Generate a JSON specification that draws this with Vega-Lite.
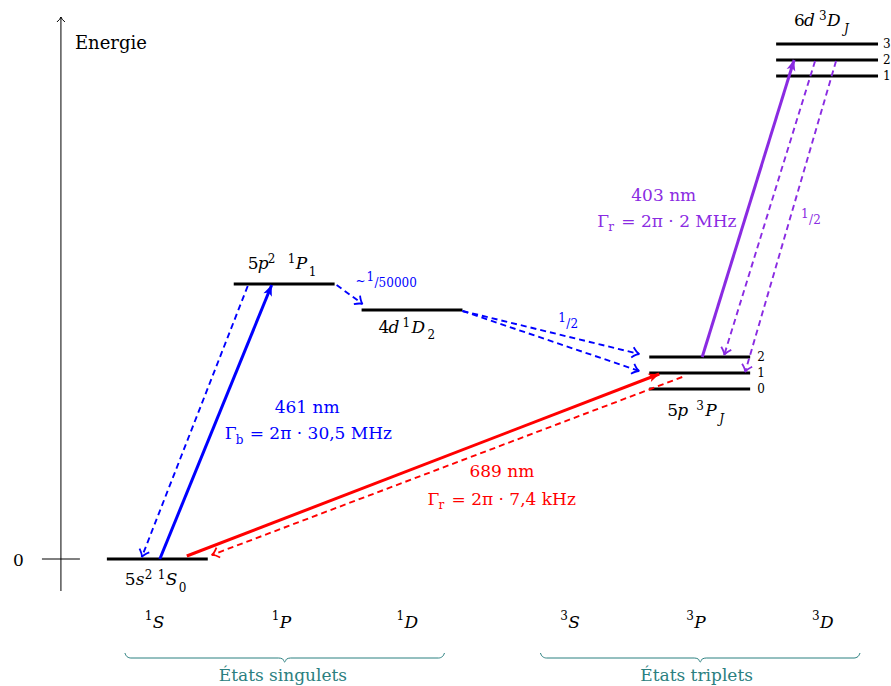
{
  "$schema": "https://vega.github.io/schema/vega-lite/v6.json",
  "width": 891,
  "height": 686,
  "autosize": {"type": "fit", "contains": "padding"},
  "padding": 0,
  "config": {"view": {"stroke": null}, "text": {"font": "DejaVu Serif"}},
  "datasets": {
    "levels": [
      {"state": "5s2 1S0", "x1": 107, "x2": 208, "y": 559},
      {"state": "5p2 1P1", "x1": 234, "x2": 335, "y": 284},
      {"state": "4d 1D2", "x1": 362, "x2": 463, "y": 310},
      {"state": "5p 3P2", "x1": 650, "x2": 751, "y": 357},
      {"state": "5p 3P1", "x1": 650, "x2": 751, "y": 373},
      {"state": "5p 3P0", "x1": 650, "x2": 751, "y": 389},
      {"state": "6d 3D3", "x1": 777, "x2": 879, "y": 44},
      {"state": "6d 3D2", "x1": 777, "x2": 879, "y": 60},
      {"state": "6d 3D1", "x1": 777, "x2": 879, "y": 76}
    ],
    "arrows": [
      {"id": "axis", "x1": 61, "y1": 591, "x2": 61, "y2": 17, "c": "k", "k": "axis"},
      {"id": "461", "x1": 160, "y1": 559, "x2": 272, "y2": 285, "c": "b", "k": "solid"},
      {"id": "461d", "x1": 248, "y1": 286, "x2": 142, "y2": 557, "c": "b", "k": "dashed"},
      {"id": "1D2", "x1": 337, "y1": 285, "x2": 363, "y2": 304, "c": "b", "k": "dashed"},
      {"id": "3P2b", "x1": 463, "y1": 311, "x2": 640, "y2": 354, "c": "b", "k": "dashed"},
      {"id": "3P1b", "x1": 463, "y1": 311, "x2": 640, "y2": 371, "c": "b", "k": "dashed"},
      {"id": "689", "x1": 187, "y1": 556, "x2": 660, "y2": 374, "c": "r", "k": "solid"},
      {"id": "689d", "x1": 683, "y1": 377, "x2": 212, "y2": 555, "c": "r", "k": "dashed"},
      {"id": "403", "x1": 703, "y1": 357, "x2": 795, "y2": 60, "c": "p", "k": "solid"},
      {"id": "403d2", "x1": 816, "y1": 61, "x2": 725, "y2": 355, "c": "p", "k": "dashed"},
      {"id": "403d1", "x1": 837, "y1": 61, "x2": 746, "y2": 372, "c": "p", "k": "dashed"}
    ],
    "ticks": [
      {"x1": 42, "x2": 80, "y": 559}
    ],
    "braces": [
      {"g": 1, "i": 0, "x": 125, "y": 653}, {"g": 1, "i": 1, "x": 127, "y": 656.5}, {"g": 1, "i": 2, "x": 131, "y": 658},
      {"g": 1, "i": 3, "x": 279, "y": 658}, {"g": 1, "i": 4, "x": 283, "y": 659}, {"g": 1, "i": 5, "x": 285, "y": 662},
      {"g": 1, "i": 6, "x": 287, "y": 659}, {"g": 1, "i": 7, "x": 291, "y": 658}, {"g": 1, "i": 8, "x": 439, "y": 658},
      {"g": 1, "i": 9, "x": 443, "y": 656.5}, {"g": 1, "i": 10, "x": 445, "y": 653},
      {"g": 2, "i": 0, "x": 541, "y": 653}, {"g": 2, "i": 1, "x": 543, "y": 656.5}, {"g": 2, "i": 2, "x": 547, "y": 658},
      {"g": 2, "i": 3, "x": 695, "y": 658}, {"g": 2, "i": 4, "x": 699, "y": 659}, {"g": 2, "i": 5, "x": 701, "y": 662},
      {"g": 2, "i": 6, "x": 703, "y": 659}, {"g": 2, "i": 7, "x": 707, "y": 658}, {"g": 2, "i": 8, "x": 855, "y": 658},
      {"g": 2, "i": 9, "x": 859, "y": 656.5}, {"g": 2, "i": 10, "x": 861, "y": 653}
    ],
    "texts": [
      {"t": "Energie", "x": 75, "y": 49, "c": "k", "f": "rm", "s": "L"},
      {"t": "0", "x": 13, "y": 566, "c": "k", "f": "rm", "s": "M"},

      {"t": "5", "x": 125, "y": 585, "c": "k", "f": "rm", "s": "M"},
      {"t": "s", "x": 136, "y": 585, "c": "k", "f": "it", "s": "M"},
      {"t": "2", "x": 145, "y": 579, "c": "k", "f": "rm", "s": "S"},
      {"t": "1", "x": 158, "y": 579, "c": "k", "f": "rm", "s": "S"},
      {"t": "S", "x": 166, "y": 585, "c": "k", "f": "it", "s": "M"},
      {"t": "0", "x": 179, "y": 592, "c": "k", "f": "rm", "s": "S"},

      {"t": "5", "x": 248, "y": 269, "c": "k", "f": "rm", "s": "M"},
      {"t": "p", "x": 258, "y": 269, "c": "k", "f": "it", "s": "M"},
      {"t": "2", "x": 268, "y": 263, "c": "k", "f": "rm", "s": "S"},
      {"t": "1", "x": 288, "y": 263, "c": "k", "f": "rm", "s": "S"},
      {"t": "P", "x": 296, "y": 269, "c": "k", "f": "it", "s": "M"},
      {"t": "1", "x": 309, "y": 276, "c": "k", "f": "rm", "s": "S"},

      {"t": "4", "x": 379, "y": 333, "c": "k", "f": "rm", "s": "M"},
      {"t": "d", "x": 389, "y": 333, "c": "k", "f": "it", "s": "M"},
      {"t": "1", "x": 403, "y": 327, "c": "k", "f": "rm", "s": "S"},
      {"t": "D", "x": 412, "y": 333, "c": "k", "f": "it", "s": "M"},
      {"t": "2", "x": 428, "y": 339, "c": "k", "f": "rm", "s": "S"},

      {"t": "5", "x": 668, "y": 416, "c": "k", "f": "rm", "s": "M"},
      {"t": "p", "x": 678, "y": 416, "c": "k", "f": "it", "s": "M"},
      {"t": "3", "x": 697, "y": 410, "c": "k", "f": "rm", "s": "S"},
      {"t": "P", "x": 706, "y": 416, "c": "k", "f": "it", "s": "M"},
      {"t": "J", "x": 720, "y": 423, "c": "k", "f": "it", "s": "S"},

      {"t": "6", "x": 795, "y": 26, "c": "k", "f": "rm", "s": "M"},
      {"t": "d", "x": 805, "y": 26, "c": "k", "f": "it", "s": "M"},
      {"t": "3", "x": 820, "y": 20, "c": "k", "f": "rm", "s": "S"},
      {"t": "D", "x": 828, "y": 26, "c": "k", "f": "it", "s": "M"},
      {"t": "J", "x": 845, "y": 33, "c": "k", "f": "it", "s": "S"},

      {"t": "2", "x": 758, "y": 361, "c": "k", "f": "rm", "s": "S"},
      {"t": "1", "x": 758, "y": 377, "c": "k", "f": "rm", "s": "S"},
      {"t": "0", "x": 758, "y": 393, "c": "k", "f": "rm", "s": "S"},
      {"t": "3", "x": 884, "y": 48, "c": "k", "f": "rm", "s": "S"},
      {"t": "2", "x": 884, "y": 64, "c": "k", "f": "rm", "s": "S"},
      {"t": "1", "x": 884, "y": 80, "c": "k", "f": "rm", "s": "S"},

      {"t": "1", "x": 145, "y": 620, "c": "k", "f": "rm", "s": "S"},
      {"t": "S", "x": 153, "y": 628, "c": "k", "f": "it", "s": "M"},
      {"t": "1", "x": 272, "y": 620, "c": "k", "f": "rm", "s": "S"},
      {"t": "P", "x": 280, "y": 628, "c": "k", "f": "it", "s": "M"},
      {"t": "1", "x": 397, "y": 620, "c": "k", "f": "rm", "s": "S"},
      {"t": "D", "x": 405, "y": 628, "c": "k", "f": "it", "s": "M"},
      {"t": "3", "x": 561, "y": 620, "c": "k", "f": "rm", "s": "S"},
      {"t": "S", "x": 569, "y": 628, "c": "k", "f": "it", "s": "M"},
      {"t": "3", "x": 687, "y": 620, "c": "k", "f": "rm", "s": "S"},
      {"t": "P", "x": 695, "y": 628, "c": "k", "f": "it", "s": "M"},
      {"t": "3", "x": 813, "y": 620, "c": "k", "f": "rm", "s": "S"},
      {"t": "D", "x": 821, "y": 628, "c": "k", "f": "it", "s": "M"},

      {"t": "461 nm", "x": 275, "y": 413, "c": "b", "f": "rm", "s": "M"},
      {"t": "Γ", "x": 225, "y": 439, "c": "b", "f": "rm", "s": "M"},
      {"t": "b", "x": 236, "y": 444, "c": "b", "f": "rm", "s": "S"},
      {"t": "= 2π · 30,5 MHz", "x": 250, "y": 439, "c": "b", "f": "rm", "s": "M"},

      {"t": "689 nm", "x": 470, "y": 477, "c": "r", "f": "rm", "s": "M"},
      {"t": "Γ", "x": 428, "y": 505, "c": "r", "f": "rm", "s": "M"},
      {"t": "r", "x": 439, "y": 509, "c": "r", "f": "rm", "s": "S"},
      {"t": "= 2π · 7,4 kHz", "x": 452, "y": 505, "c": "r", "f": "rm", "s": "M"},

      {"t": "403 nm", "x": 632, "y": 201, "c": "p", "f": "rm", "s": "M"},
      {"t": "Γ", "x": 598, "y": 227, "c": "p", "f": "rm", "s": "M"},
      {"t": "r", "x": 609, "y": 231, "c": "p", "f": "rm", "s": "S"},
      {"t": "= 2π · 2 MHz", "x": 622, "y": 227, "c": "p", "f": "rm", "s": "M"},

      {"t": "~", "x": 356, "y": 285, "c": "b", "f": "rm", "s": "S"},
      {"t": "1", "x": 367, "y": 281, "c": "b", "f": "rm", "s": "S"},
      {"t": "/50000", "x": 375, "y": 287, "c": "b", "f": "rm", "s": "S"},
      {"t": "1", "x": 559, "y": 322, "c": "b", "f": "rm", "s": "S"},
      {"t": "/2", "x": 567, "y": 328, "c": "b", "f": "rm", "s": "S"},
      {"t": "1", "x": 802, "y": 218, "c": "p", "f": "rm", "s": "S"},
      {"t": "/2", "x": 810, "y": 224, "c": "p", "f": "rm", "s": "S"},

      {"t": "États singulets", "x": 219, "y": 681, "c": "t", "f": "rm", "s": "M"},
      {"t": "États triplets", "x": 641, "y": 681, "c": "t", "f": "rm", "s": "M"}
    ]
  },
  "layer": [
    {
      "data": {"name": "levels"},
      "mark": {"type": "rule", "strokeWidth": 3, "color": "black"},
      "encoding": {
        "x": {"field": "x1", "type": "quantitative", "scale": {"domain": [0, 891], "nice": false, "zero": false}, "axis": null},
        "x2": {"field": "x2"},
        "y": {"field": "y", "type": "quantitative", "scale": {"domain": [0, 686], "nice": false, "zero": false, "reverse": true}, "axis": null}
      }
    },
    {
      "data": {"name": "ticks"},
      "mark": {"type": "rule", "strokeWidth": 1, "color": "black"},
      "encoding": {
        "x": {"field": "x1", "type": "quantitative", "axis": null},
        "x2": {"field": "x2"},
        "y": {"field": "y", "type": "quantitative", "axis": null}
      }
    },
    {
      "data": {"name": "arrows"},
      "transform": [{"filter": "datum.k === 'axis'"}],
      "mark": {"type": "rule", "strokeWidth": 1, "color": "black"},
      "encoding": {
        "x": {"field": "x1", "type": "quantitative", "axis": null},
        "x2": {"field": "x2"},
        "y": {"field": "y1", "type": "quantitative", "axis": null},
        "y2": {"field": "y2"}
      }
    },
    {
      "data": {"name": "arrows"},
      "transform": [{"filter": "datum.k === 'solid'"}],
      "mark": {"type": "rule", "strokeWidth": 3},
      "encoding": {
        "x": {"field": "x1", "type": "quantitative", "axis": null},
        "x2": {"field": "x2"},
        "y": {"field": "y1", "type": "quantitative", "axis": null},
        "y2": {"field": "y2"},
        "color": {"field": "c", "type": "nominal", "legend": null,
          "scale": {"domain": ["k", "b", "r", "p", "t"], "range": ["#000000", "#0000ff", "#ff0000", "#8a2be2", "#2b8080"]}}
      }
    },
    {
      "data": {"name": "arrows"},
      "transform": [{"filter": "datum.k === 'dashed'"}],
      "mark": {"type": "rule", "strokeWidth": 1.9, "strokeDash": [6, 4]},
      "encoding": {
        "x": {"field": "x1", "type": "quantitative", "axis": null},
        "x2": {"field": "x2"},
        "y": {"field": "y1", "type": "quantitative", "axis": null},
        "y2": {"field": "y2"},
        "color": {"field": "c", "type": "nominal", "legend": null}
      }
    },
    {
      "data": {"name": "arrows"},
      "transform": [
        {"filter": "datum.k === 'solid'"},
        {"calculate": "atan2(datum.y2 - datum.y1, datum.x2 - datum.x1) * 180 / PI", "as": "dir"}
      ],
      "mark": {"type": "point", "filled": true, "opacity": 1, "size": 460,
        "shape": "M0,0 L-1,-0.42 L-0.75,0 L-1,0.42 Z"},
      "encoding": {
        "x": {"field": "x2", "type": "quantitative", "axis": null},
        "y": {"field": "y2", "type": "quantitative", "axis": null},
        "angle": {"field": "dir", "type": "quantitative", "scale": null},
        "color": {"field": "c", "type": "nominal", "legend": null}
      }
    },
    {
      "data": {"name": "arrows"},
      "transform": [
        {"filter": "datum.k === 'dashed'"},
        {"calculate": "atan2(datum.y2 - datum.y1, datum.x2 - datum.x1) * 180 / PI", "as": "dir"}
      ],
      "mark": {"type": "point", "filled": false, "opacity": 1, "size": 196, "strokeWidth": 1.8,
        "shape": "M-1,-0.75 Q-0.4,-0.1 0,0 Q-0.4,0.1 -1,0.75"},
      "encoding": {
        "x": {"field": "x2", "type": "quantitative", "axis": null},
        "y": {"field": "y2", "type": "quantitative", "axis": null},
        "angle": {"field": "dir", "type": "quantitative", "scale": null},
        "color": {"field": "c", "type": "nominal", "legend": null}
      }
    },
    {
      "data": {"name": "arrows"},
      "transform": [
        {"filter": "datum.k === 'axis'"},
        {"calculate": "atan2(datum.y2 - datum.y1, datum.x2 - datum.x1) * 180 / PI", "as": "dir"}
      ],
      "mark": {"type": "point", "filled": false, "opacity": 1, "size": 100, "strokeWidth": 1, "color": "black",
        "shape": "M-1,-0.8 Q-0.4,-0.1 0,0 Q-0.4,0.1 -1,0.8"},
      "encoding": {
        "x": {"field": "x2", "type": "quantitative", "axis": null},
        "y": {"field": "y2", "type": "quantitative", "axis": null},
        "angle": {"field": "dir", "type": "quantitative", "scale": null}
      }
    },
    {
      "data": {"name": "braces"},
      "mark": {"type": "line", "strokeWidth": 1, "color": "#2b8080", "interpolate": "monotone"},
      "encoding": {
        "x": {"field": "x", "type": "quantitative", "axis": null},
        "y": {"field": "y", "type": "quantitative", "axis": null},
        "detail": {"field": "g", "type": "nominal"},
        "order": {"field": "i", "type": "quantitative"}
      }
    },
    {
      "data": {"name": "texts"},
      "transform": [{"filter": "datum.f === 'rm' && datum.s === 'L'"}],
      "mark": {"type": "text", "align": "left", "baseline": "alphabetic", "font": "DejaVu Serif", "fontSize": 18},
      "encoding": {
        "x": {"field": "x", "type": "quantitative", "axis": null},
        "y": {"field": "y", "type": "quantitative", "axis": null},
        "text": {"field": "t"},
        "color": {"field": "c", "type": "nominal", "legend": null}
      }
    },
    {
      "data": {"name": "texts"},
      "transform": [{"filter": "datum.f === 'rm' && datum.s === 'M'"}],
      "mark": {"type": "text", "align": "left", "baseline": "alphabetic", "font": "DejaVu Serif", "fontSize": 17},
      "encoding": {
        "x": {"field": "x", "type": "quantitative", "axis": null},
        "y": {"field": "y", "type": "quantitative", "axis": null},
        "text": {"field": "t"},
        "color": {"field": "c", "type": "nominal", "legend": null}
      }
    },
    {
      "data": {"name": "texts"},
      "transform": [{"filter": "datum.f === 'rm' && datum.s === 'S'"}],
      "mark": {"type": "text", "align": "left", "baseline": "alphabetic", "font": "DejaVu Serif", "fontSize": 12},
      "encoding": {
        "x": {"field": "x", "type": "quantitative", "axis": null},
        "y": {"field": "y", "type": "quantitative", "axis": null},
        "text": {"field": "t"},
        "color": {"field": "c", "type": "nominal", "legend": null}
      }
    },
    {
      "data": {"name": "texts"},
      "transform": [{"filter": "datum.f === 'it' && datum.s === 'M'"}],
      "mark": {"type": "text", "align": "left", "baseline": "alphabetic", "font": "DejaVu Serif", "fontStyle": "italic", "fontSize": 17},
      "encoding": {
        "x": {"field": "x", "type": "quantitative", "axis": null},
        "y": {"field": "y", "type": "quantitative", "axis": null},
        "text": {"field": "t"},
        "color": {"field": "c", "type": "nominal", "legend": null}
      }
    },
    {
      "data": {"name": "texts"},
      "transform": [{"filter": "datum.f === 'it' && datum.s === 'S'"}],
      "mark": {"type": "text", "align": "left", "baseline": "alphabetic", "font": "DejaVu Serif", "fontStyle": "italic", "fontSize": 12},
      "encoding": {
        "x": {"field": "x", "type": "quantitative", "axis": null},
        "y": {"field": "y", "type": "quantitative", "axis": null},
        "text": {"field": "t"},
        "color": {"field": "c", "type": "nominal", "legend": null}
      }
    }
  ]
}
